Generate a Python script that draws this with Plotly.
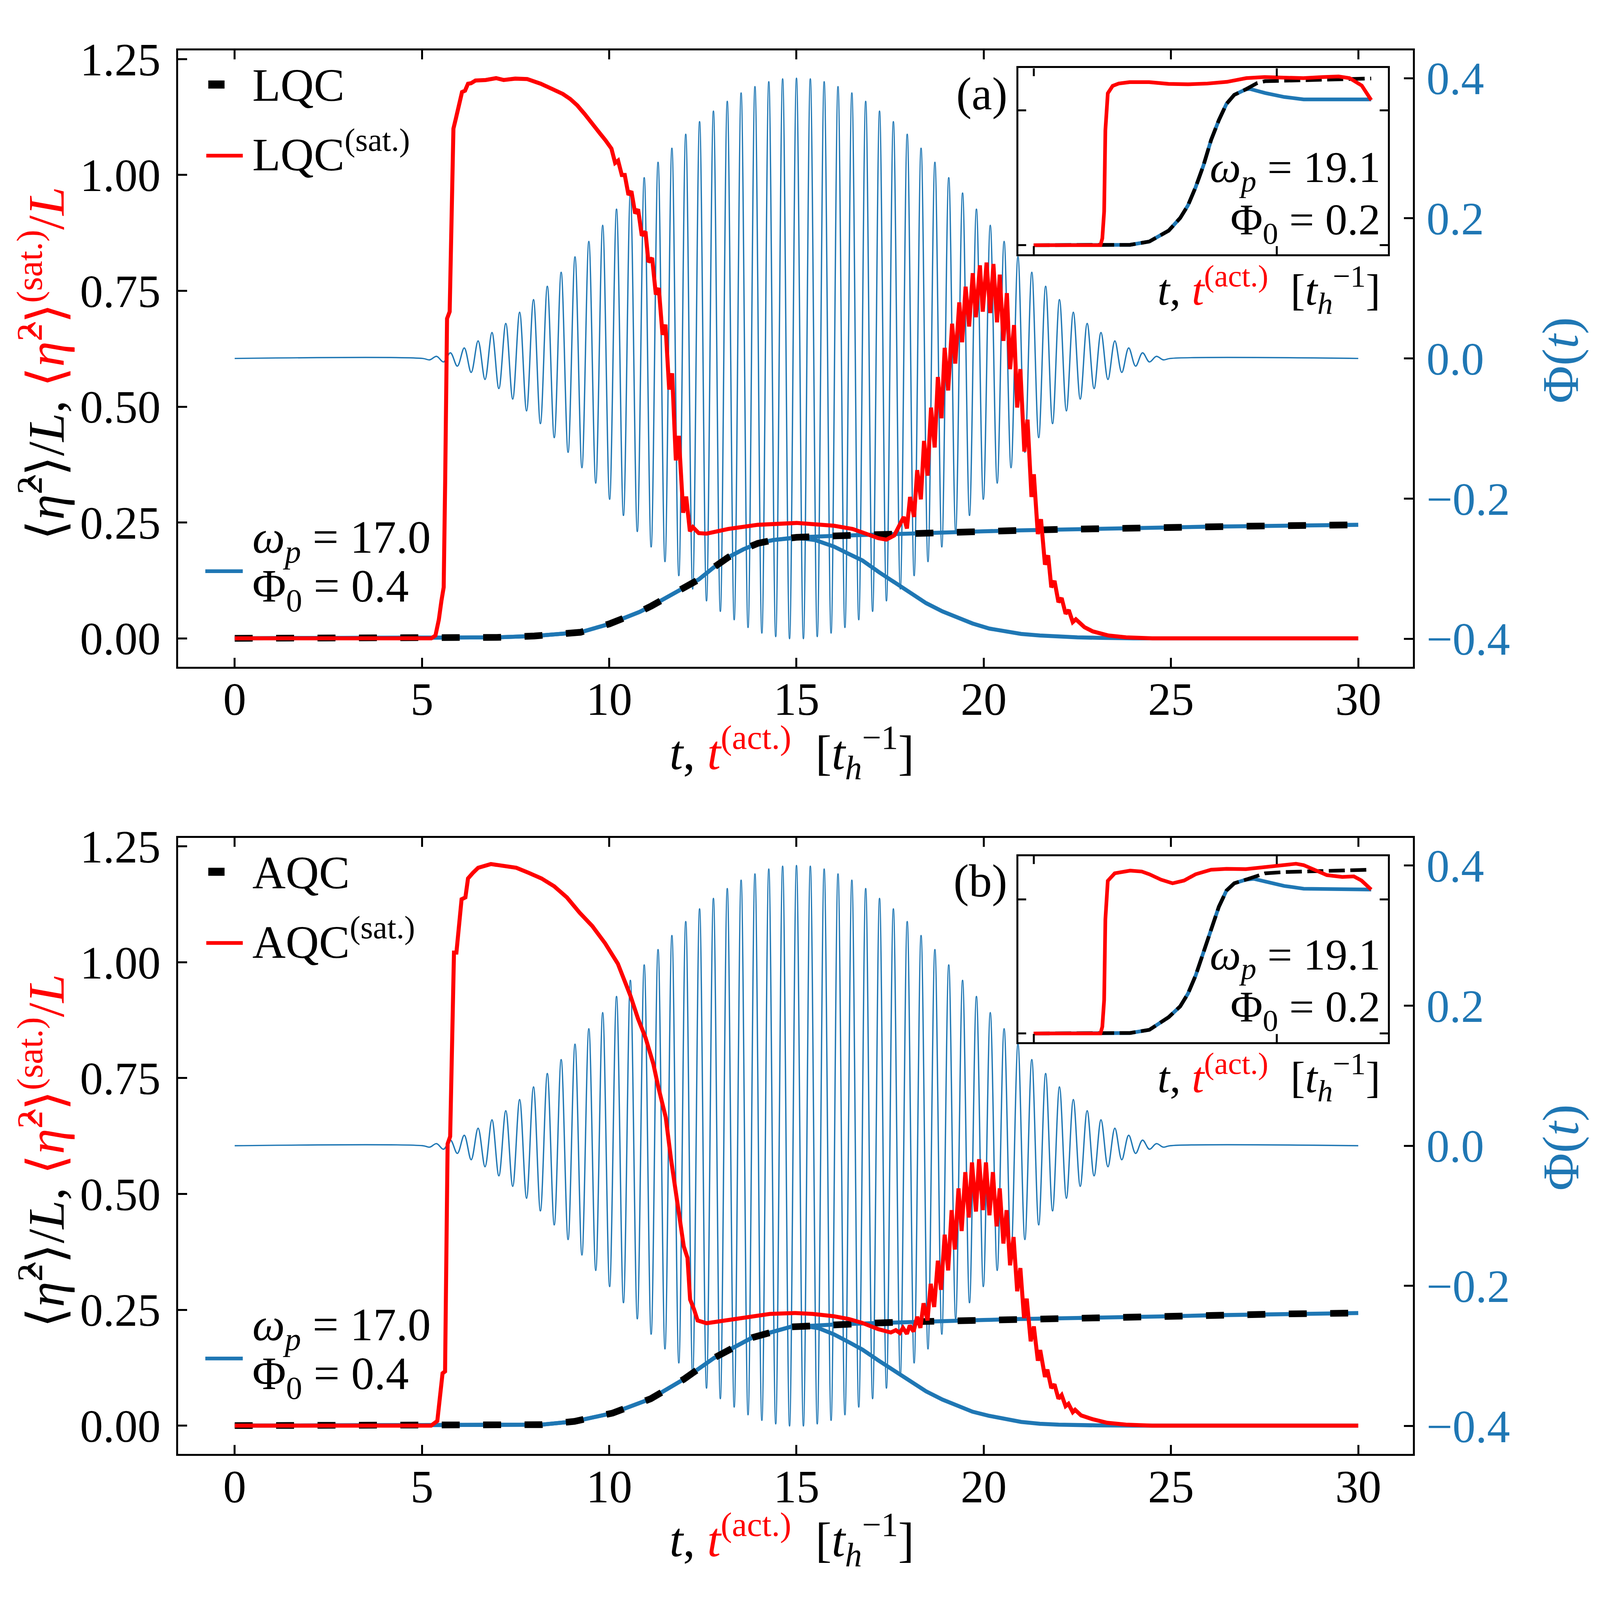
import plotly.graph_objects as go

# ======================================================
# Data
# ======================================================

# drive pulse Phi(t): tip times are PHI_CENTRE + k * PHI_HALF_PERIOD,
# tip heights (|k| = 0, 1, 2, ...) read from the envelope of the trace
PHI_CENTRE = 15.0
PHI_HALF_PERIOD = 0.1848
PHI_TIP_AMP = [
    0.400, 0.400, 0.399, 0.397, 0.395, 0.392, 0.388, 0.384, 0.379, 0.373,
    0.367, 0.361, 0.353, 0.346, 0.338, 0.329, 0.320, 0.310, 0.300, 0.290,
    0.280, 0.269, 0.258, 0.247, 0.236, 0.224, 0.213, 0.201, 0.190, 0.178,
    0.167, 0.156, 0.145, 0.134, 0.123, 0.113, 0.103, 0.093, 0.084, 0.075,
    0.066, 0.058, 0.050, 0.043, 0.037, 0.030, 0.025, 0.020, 0.015, 0.011,
    0.008, 0.005, 0.003, 0.002, 0.000,
]
PHI_T_START = 0.0
PHI_T_END = 30.0

# panel (a): LQC
LQC = [
    (0, 0), (5, 0), (6, 0.0005), (7, 0.002), (8, 0.005), (9, 0.011),
    (9.23, 0.013), (10, 0.031), (10.42, 0.044), (10.81, 0.057), (11.13, 0.07),
    (11.6, 0.092), (12.0, 0.109), (12.39, 0.127), (12.79, 0.153),
    (13.18, 0.175), (13.58, 0.192), (13.97, 0.205), (14.37, 0.212),
    (15.0, 0.218), (16, 0.221), (17, 0.224), (18, 0.227), (19, 0.229),
    (20, 0.231), (21, 0.233), (22, 0.235), (23, 0.237), (24, 0.239),
    (25, 0.240), (26, 0.241), (27, 0.242), (28, 0.243), (29, 0.244),
    (30, 0.245),
]

HUMP_A = [
    (0, 0), (5, 0), (6, 0.0005), (7, 0.002), (8, 0.005), (9, 0.011),
    (9.23, 0.013), (10, 0.031), (10.42, 0.044), (10.81, 0.057), (11.13, 0.07),
    (11.6, 0.092), (12.0, 0.109), (12.39, 0.127), (12.79, 0.153),
    (13.18, 0.175), (13.58, 0.192), (13.97, 0.205), (14.37, 0.212),
    (15.0, 0.217), (15.5, 0.212), (16.0, 0.198), (16.4, 0.182),
    (16.76, 0.168), (17.2, 0.143), (17.61, 0.122), (18.0, 0.10),
    (18.46, 0.076), (18.9, 0.058), (19.3, 0.044), (19.7, 0.032),
    (20.15, 0.021), (20.6, 0.014), (21.0, 0.0095), (21.5, 0.006),
    (21.85, 0.004), (22.5, 0.002), (23.1, 0.001), (24, 0), (30, 0),
]

LQC_SAT = [
    (0, 0), (5.25, 0), (5.36, 0.006), (5.45, 0.04), (5.52, 0.081),
    (5.58, 0.11), (5.62, 0.34), (5.67, 0.69), (5.74, 0.705), (5.79, 0.95),
    (5.84, 1.10), (5.90, 1.12), (5.99, 1.155), (6.07, 1.179), (6.15, 1.182),
    (6.23, 1.197), (6.31, 1.198), (6.43, 1.204), (6.70, 1.205),
    (6.98, 1.209), (7.18, 1.205), (7.49, 1.208), (7.81, 1.207),
    (7.97, 1.203), (8.17, 1.197), (8.36, 1.19), (8.56, 1.183),
    (8.76, 1.175), (8.96, 1.164), (9.15, 1.15), (9.35, 1.131),
    (9.55, 1.109), (9.75, 1.09), (9.90, 1.075),
    (10.059, 1.057), (10.158, 1.026), (10.237, 1.031), (10.336, 1.000),
    (10.415, 1.000), (10.514, 0.957), (10.593, 0.965), (10.692, 0.917),
    (10.771, 0.926), (10.870, 0.869), (10.968, 0.878), (11.047, 0.812),
    (11.146, 0.821), (11.245, 0.742), (11.324, 0.756), (11.423, 0.655),
    (11.502, 0.677), (11.601, 0.537), (11.680, 0.572), (11.779, 0.384),
    (11.858, 0.437), (11.976, 0.271), (12.055, 0.306), (12.154, 0.231),
    (12.233, 0.240), (12.39, 0.227), (12.60, 0.226), (13.18, 0.236),
    (13.97, 0.245), (15.00, 0.249), (15.50, 0.247), (16.00, 0.243),
    (16.50, 0.236), (16.76, 0.228), (17.19, 0.216), (17.40, 0.213),
    (17.61, 0.222),
    (17.864, 0.262), (17.949, 0.237), (18.033, 0.305), (18.139, 0.262),
    (18.224, 0.363), (18.321, 0.300), (18.406, 0.426), (18.499, 0.351),
    (18.593, 0.498), (18.690, 0.412), (18.775, 0.564), (18.872, 0.475),
    (18.957, 0.627), (19.050, 0.535), (19.156, 0.679), (19.240, 0.593),
    (19.347, 0.725), (19.423, 0.639), (19.516, 0.759), (19.610, 0.673),
    (19.707, 0.788), (19.790, 0.693), (19.898, 0.805), (19.974, 0.705),
    (20.076, 0.811), (20.173, 0.702), (20.258, 0.808), (20.355, 0.682),
    (20.427, 0.785), (20.525, 0.642), (20.618, 0.745), (20.703, 0.581),
    (20.809, 0.676), (20.893, 0.498), (20.978, 0.581), (21.084, 0.403),
    (21.169, 0.472), (21.275, 0.305), (21.338, 0.354), (21.444, 0.225),
    (21.529, 0.257), (21.635, 0.159), (21.720, 0.179), (21.804, 0.110),
    (21.890, 0.124), (21.995, 0.078), (22.080, 0.087), (22.186, 0.053),
    (22.270, 0.061), (22.377, 0.035), (22.460, 0.041),
    (22.69, 0.024), (22.91, 0.015), (23.33, 0.006), (23.80, 0.002),
    (24.50, 0.0), (30.0, 0.0),
]

# panel (b): AQC
AQC = [
    (0, 0), (5, 0), (7, 0.001), (8.19, 0.002), (9.07, 0.009),
    (10.09, 0.027), (11.11, 0.058), (11.99, 0.100), (12.8, 0.146),
    (13.82, 0.190), (14.84, 0.213), (15.43, 0.216), (16, 0.218),
    (17, 0.221), (18, 0.224), (19, 0.226), (20, 0.228), (21, 0.230),
    (22, 0.231), (23, 0.232), (24, 0.234), (25, 0.236), (26, 0.238),
    (27, 0.239), (28, 0.241), (29, 0.242), (30, 0.243),
]

HUMP_B = [
    (0, 0), (5, 0), (7, 0.001), (8.19, 0.002), (9.07, 0.009),
    (10.09, 0.027), (11.11, 0.058), (11.99, 0.100), (12.8, 0.146),
    (13.82, 0.190), (14.84, 0.213), (15.2, 0.215), (15.6, 0.21),
    (16.0, 0.197), (16.4, 0.18), (16.76, 0.164), (17.2, 0.14),
    (17.61, 0.119), (18.0, 0.097), (18.46, 0.074), (18.9, 0.056),
    (19.3, 0.042), (19.7, 0.03), (20.15, 0.021), (20.6, 0.013),
    (21.0, 0.008), (21.5, 0.004), (22, 0.002), (23, 0.0005), (24, 0),
    (30, 0),
]

AQC_SAT = [
    (0, 0), (5.245, 0), (5.41, 0.01), (5.48, 0.068), (5.55, 0.113),
    (5.617, 0.117), (5.65, 0.354), (5.685, 0.608), (5.753, 0.624),
    (5.82, 0.845), (5.855, 1.021), (5.92, 1.021), (5.99, 1.091),
    (6.058, 1.136), (6.16, 1.14), (6.23, 1.181), (6.36, 1.193),
    (6.5, 1.204), (6.84, 1.212), (7.18, 1.209), (7.52, 1.204),
    (7.85, 1.193), (8.19, 1.181), (8.53, 1.164), (8.87, 1.14),
    (9.21, 1.107), (9.55, 1.078), (9.89, 1.041), (10.23, 0.997),
    (10.57, 0.927), (10.77, 0.878), (10.97, 0.837), (11.18, 0.78),
    (11.31, 0.731), (11.51, 0.665), (11.65, 0.575), (11.85, 0.469),
    (11.99, 0.387), (12.09, 0.362), (12.16, 0.272), (12.26, 0.252),
    (12.36, 0.227), (12.6, 0.221), (12.94, 0.225), (13.62, 0.235),
    (14.29, 0.241), (14.97, 0.243), (15.43, 0.241), (16.0, 0.236),
    (16.4, 0.23), (16.76, 0.2215), (17.19, 0.208), (17.52, 0.201),
    (17.652, 0.206), (17.758, 0.200), (17.843, 0.211), (17.949, 0.198),
    (18.025, 0.216), (18.126, 0.203), (18.224, 0.235), (18.309, 0.211),
    (18.393, 0.264), (18.499, 0.227), (18.584, 0.306), (18.677, 0.256),
    (18.775, 0.356), (18.86, 0.293), (18.957, 0.412), (19.05, 0.335),
    (19.143, 0.465), (19.228, 0.380), (19.326, 0.512), (19.41, 0.420),
    (19.508, 0.547), (19.601, 0.449), (19.686, 0.568), (19.792, 0.462),
    (19.876, 0.575), (19.974, 0.465), (20.059, 0.568), (20.152, 0.454),
    (20.245, 0.547), (20.343, 0.430), (20.427, 0.512), (20.525, 0.393),
    (20.61, 0.465), (20.703, 0.346), (20.796, 0.407), (20.893, 0.290),
    (20.978, 0.340), (21.076, 0.232), (21.148, 0.274), (21.254, 0.182),
    (21.338, 0.214), (21.445, 0.140), (21.508, 0.163), (21.635, 0.105),
    (21.698, 0.121), (21.804, 0.081), (21.889, 0.089), (21.995, 0.058),
    (22.08, 0.066), (22.186, 0.042), (22.262, 0.047), (22.377, 0.029),
    (22.44, 0.034),
    (22.6, 0.022), (22.9, 0.014), (23.3, 0.006), (23.8, 0.002),
    (24.5, 0.0), (30.0, 0.0),
]

# insets (omega_p = 19.1, Phi_0 = 0.2)
INSET_A_SAT = [
    (0, 0), (5.5, 0), (5.65, 0.01), (5.8, 0.05), (5.9, 0.17), (6.1, 0.225),
    (6.5, 0.236), (7.0, 0.2395), (7.9, 0.2416), (9.5, 0.2416),
    (11.1, 0.239), (12.7, 0.2384), (14.3, 0.2395), (15.9, 0.242),
    (17.5, 0.2475), (19.0, 0.2491), (20.6, 0.2483), (22.2, 0.2475),
    (23.8, 0.2491), (25.1, 0.250), (26.0, 0.2475), (27.0, 0.2365),
    (27.78, 0.215),
]
INSET_A_QC = [
    (0, 0), (5.7, 0), (7.94, 0.0005), (9.52, 0.0054), (11.11, 0.0215),
    (12.06, 0.0403), (12.7, 0.059), (13.33, 0.0859), (13.97, 0.118),
    (14.6, 0.1557), (15.24, 0.1852), (15.87, 0.2094), (16.51, 0.2228),
    (17.46, 0.2309), (18.41, 0.2403), (19.05, 0.243), (20.63, 0.2438),
    (23.81, 0.2448), (27.78, 0.247),
]
INSET_A_EX = [
    (0, 0), (5.7, 0), (7.94, 0.0005), (9.52, 0.0054), (11.11, 0.0215),
    (12.06, 0.0403), (12.7, 0.059), (13.33, 0.0859), (13.97, 0.118),
    (14.6, 0.1557), (15.24, 0.1852), (15.87, 0.2094), (16.51, 0.2228),
    (17.46, 0.2309), (17.8, 0.2315), (19.05, 0.2255), (20.63, 0.2196),
    (22.22, 0.216), (27.78, 0.216),
]
INSET_B_SAT = [
    (0, 0), (5.5, 0), (5.65, 0.01), (5.8, 0.05), (5.9, 0.17), (6.1, 0.228),
    (6.67, 0.2392), (6.98, 0.2405), (7.94, 0.2432), (8.89, 0.2419),
    (9.52, 0.2378), (10.48, 0.2297), (11.43, 0.2243), (12.38, 0.2284),
    (13.33, 0.2378), (14.6, 0.2446), (15.87, 0.2459), (17.46, 0.2454),
    (19.05, 0.2486), (20.63, 0.2527), (21.59, 0.2535), (22.22, 0.2514),
    (23.17, 0.2446), (24.13, 0.2365), (25.4, 0.2338), (26.35, 0.2346),
    (26.98, 0.2284), (27.78, 0.2149),
]
INSET_B_QC = [
    (0, 0), (5.7, 0), (7.94, 0.0007), (9.52, 0.0054), (11.11, 0.0243),
    (12.06, 0.0405), (12.7, 0.0595), (13.33, 0.0865), (13.97, 0.1216),
    (14.6, 0.1568), (15.24, 0.1892), (15.87, 0.2135), (16.51, 0.2243),
    (17.46, 0.2297), (18.41, 0.2351), (19.05, 0.2392), (20.63, 0.2411),
    (23.81, 0.2432), (27.78, 0.2446),
]
INSET_B_EX = [
    (0, 0), (5.7, 0), (7.94, 0.0007), (9.52, 0.0054), (11.11, 0.0243),
    (12.06, 0.0405), (12.7, 0.0595), (13.33, 0.0865), (13.97, 0.1216),
    (14.6, 0.1568), (15.24, 0.1892), (15.87, 0.2135), (16.51, 0.2243),
    (17.46, 0.2297), (18.1, 0.231), (19.05, 0.227), (20.63, 0.2203),
    (22.22, 0.2162), (27.78, 0.2149),
]

X_TICKS = [0, 5, 10, 15, 20, 25, 30]
ETA_TICKS = [0.0, 0.25, 0.5, 0.75, 1.0, 1.25]
PHI_TICKS = [-0.4, -0.2, 0.0, 0.2, 0.4]
PHI_TICK_TEXT = ["\u22120.4", "\u22120.2", "0.0", "0.2", "0.4"]
INSET_X_TICKS = [0, 20]
INSET_Y_TICKS = [0, 0.2]

# ======================================================
# Style
# ======================================================

# the page is shown in a 4096 x 4096 css-px viewport and the shot is then
# stretched to the 4824 x 4742 reference, so positions are written in
# reference pixels and converted here
REF_W, REF_H = 4824, 4742
VIEW = 4096
BODY_MARGIN = 8
FIG_W = FIG_H = VIEW - 2 * BODY_MARGIN
K = 0.857  # reference px -> css px for sizes

FONT = "Liberation Serif"
FS = round(138 * K)
FS_INSET = round(132 * K)
FS_XTITLE = 124
FS_YTITLE = 132
RED = "#ff0000"
BLUE = "#1f77b4"
BLACK = "#000000"

# panel (b) sits this many reference pixels below panel (a)
DY = 2357


def px(X):
    return (X * VIEW / REF_W - BODY_MARGIN) / FIG_W


def py(Y):
    return 1 - (Y * VIEW / REF_H - BODY_MARGIN) / FIG_H


def s(v):
    return v * K


def split(points):
    return [p[0] for p in points], [p[1] for p in points]


def phi_curve():
    ts = [PHI_T_START]
    vs = [0.0]
    n = len(PHI_TIP_AMP) - 1
    for k in range(-n, n + 1):
        ts.append(PHI_CENTRE + k * PHI_HALF_PERIOD)
        sign = 1 if k % 2 == 0 else -1
        vs.append(sign * PHI_TIP_AMP[abs(k)])
    ts.append(PHI_T_END)
    vs.append(0.0)
    return ts, vs


def axis(**kw):
    base = dict(
        showline=True,
        linecolor=BLACK,
        linewidth=s(6),
        ticks="inside",
        ticklen=s(27),
        tickwidth=s(6),
        tickcolor=BLACK,
        showgrid=False,
        zeroline=False,
        tickfont=dict(family=FONT, size=FS, color=BLACK),
    )
    base.update(kw)
    return base


fig = go.Figure()

MAIN_X_DOMAIN = [px(537), px(4260)]
INSET_X_DOMAIN = [px(3070), px(4184)]

panels = [
    dict(x="x", phi="y", eta="y2", ix="x2", iy="y3",
         qc=LQC, hump=HUMP_A, sat=LQC_SAT,
         isat=INSET_A_SAT, iqc=INSET_A_QC, iex=INSET_A_EX),
    dict(x="x3", phi="y4", eta="y5", ix="x4", iy="y6",
         qc=AQC, hump=HUMP_B, sat=AQC_SAT,
         isat=INSET_B_SAT, iqc=INSET_B_QC, iex=INSET_B_EX),
]

phi_t, phi_v = phi_curve()

MAIN_DASH = "%dpx,%dpx" % (round(54 * 0.849), round(71 * 0.849))
INSET_DASH = "%dpx,%dpx" % (round(48 * 0.849), round(16 * 0.849))

for p in panels:

    # drive pulse (right axis)
    fig.add_trace(go.Scatter(
        x=phi_t, y=phi_v, xaxis=p["x"], yaxis=p["phi"],
        mode="lines", line=dict(color=BLUE, width=s(4), shape="spline"),
        showlegend=False,
    ))

    # eta^2 curves (left axis)
    t, v = split(p["qc"])
    fig.add_trace(go.Scatter(
        x=t, y=v, xaxis=p["x"], yaxis=p["eta"], mode="lines",
        line=dict(color=BLUE, width=s(12)), showlegend=False,
    ))
    t, v = split(p["hump"])
    fig.add_trace(go.Scatter(
        x=t, y=v, xaxis=p["x"], yaxis=p["eta"], mode="lines",
        line=dict(color=BLUE, width=s(12)), showlegend=False,
    ))
    t, v = split(p["qc"])
    fig.add_trace(go.Scatter(
        x=t, y=v, xaxis=p["x"], yaxis=p["eta"], mode="lines",
        line=dict(color=BLACK, width=s(20), dash=MAIN_DASH),
        showlegend=False,
    ))
    t, v = split(p["sat"])
    fig.add_trace(go.Scatter(
        x=t, y=v, xaxis=p["x"], yaxis=p["eta"], mode="lines",
        line=dict(color=RED, width=s(12)), showlegend=False,
    ))

    # inset
    t, v = split(p["iex"])
    fig.add_trace(go.Scatter(
        x=t, y=v, xaxis=p["ix"], yaxis=p["iy"], mode="lines",
        line=dict(color=BLUE, width=s(11)), showlegend=False,
    ))
    t, v = split(p["iqc"])
    fig.add_trace(go.Scatter(
        x=t, y=v, xaxis=p["ix"], yaxis=p["iy"], mode="lines",
        line=dict(color=BLACK, width=s(11), dash=INSET_DASH),
        showlegend=False,
    ))
    t, v = split(p["isat"])
    fig.add_trace(go.Scatter(
        x=t, y=v, xaxis=p["ix"], yaxis=p["iy"], mode="lines",
        line=dict(color=RED, width=s(11)), showlegend=False,
    ))

# ======================================================
# Axes
# ======================================================

layout_axes = {}

for i, off in enumerate([0, DY]):
    xa = ["xaxis", "xaxis3"][i]
    ya_phi = ["yaxis", "yaxis4"][i]
    ya_eta = ["yaxis2", "yaxis5"][i]
    xi = ["xaxis2", "xaxis4"][i]
    yi = ["yaxis3", "yaxis6"][i]
    phi_ref = ["y", "y4"][i]
    x_ref = ["x", "x3"][i]
    xi_ref = ["x2", "x4"][i]
    yi_ref = ["y3", "y6"][i]

    layout_axes[xa] = axis(
        domain=MAIN_X_DOMAIN, anchor=phi_ref, range=[-1.511, 31.46],
        tickvals=X_TICKS, mirror="ticks", ticklabelstandoff=-23,
    )
    layout_axes[ya_phi] = axis(
        domain=[py(1948 + off), py(103 + off)], anchor=x_ref, side="right",
        range=[-0.44, 0.4396], tickvals=PHI_TICKS, ticktext=PHI_TICK_TEXT,
        tickfont=dict(family=FONT, size=FS, color=BLUE),
        ticklabelstandoff=6,
    )
    layout_axes[ya_eta] = axis(
        overlaying=phi_ref, anchor=x_ref, side="left",
        range=[-0.0613, 1.2688], tickvals=ETA_TICKS, tickformat=".2f",
        ticklabelstandoff=16,
    )
    layout_axes[xi] = axis(
        domain=INSET_X_DOMAIN, anchor=yi_ref, range=[-1.27, 29.14],
        tickvals=INSET_X_TICKS, showticklabels=False, mirror="ticks",
        ticklen=s(24),
    )
    inset_top = [156, 2515][i]
    inset_bot = [713, 3072][i]
    layout_axes[yi] = axis(
        domain=[py(inset_bot), py(inset_top)], anchor=xi_ref,
        range=[-0.0134, 0.2623] if i == 0 else [-0.013, 0.2649],
        tickvals=INSET_Y_TICKS, showticklabels=False, mirror="ticks",
        ticklen=s(24),
    )

# ======================================================
# Text and legend keys
# ======================================================

T_LABEL = ("<i>t</i>, <span style='color:#ff0000'><i>t</i>"
           "<sup>(act.)</sup></span>  [<i>t</i><sub><i>h</i></sub>"
           "<sup>\u22121</sup>]")
ETA = "\u27e8<i>\u03b7\u0302</i><sup>2</sup>\u27e9"
Y_LABEL = (ETA + "/<i>L</i>, <span style='color:#ff0000'>" + ETA +
           "<sup>(sat.)</sup>/<i>L</i></span>")

annotations = []
shapes = []


def text(txt, X, Y, xanchor="left", size=FS, color=BLACK, angle=0):
    annotations.append(dict(
        text=txt, x=px(X), y=py(Y), xref="paper", yref="paper",
        xanchor=xanchor, yanchor="middle", showarrow=False,
        textangle=angle, font=dict(family=FONT, size=size, color=color),
    ))


def key(X0, X1, Y, color, width):
    shapes.append(dict(
        type="line", xref="paper", yref="paper",
        x0=px(X0), x1=px(X1), y0=py(Y), y1=py(Y),
        line=dict(color=color, width=width),
    ))


for i, name in enumerate(["LQC", "AQC"]):
    off = i * DY
    tag = ["(a)", "(b)"][i]

    key(628, 677, 205 + off, BLACK, s(24))
    text(name, 759, 208 + off)
    key(622, 732, 418 + off, RED, s(11))
    text(name + "<sup>(sat.)</sup>", 759, 405 + off)
    key(619, 732, 1662 + off, BLUE, s(11))
    text("<i>\u03c9</i><sub><i>p</i></sub> = 17.0", 759, 1571 + off)
    text("\u03a6<sub>0</sub> = 0.4", 759, 1717 + off)

    text(tag, 3040, 233 + off, xanchor="right")
    text("<i>\u03c9</i><sub><i>p</i></sub> = 19.1", 4165, 462 + off,
         xanchor="right", size=FS_INSET)
    text("\u03a6<sub>0</sub> = 0.2", 4165, 618 + off,
         xanchor="right", size=FS_INSET)
    text(T_LABEL, 4165, 820 + off, xanchor="right", size=FS_INSET)

    text(T_LABEL, 2387, 2205 + off, xanchor="center", size=FS_XTITLE)
    text(Y_LABEL, 128, 1040 + off, xanchor="center", size=FS_YTITLE,
         angle=-90)
    text("\u03a6(<i>t</i>)", 4705, 1030 + off, xanchor="center",
         size=FS_YTITLE, color=BLUE, angle=-90)

fig.update_layout(
    width=FIG_W,
    height=FIG_H,
    autosize=False,
    margin=dict(l=0, r=0, t=0, b=0),
    paper_bgcolor="white",
    plot_bgcolor="white",
    showlegend=False,
    font=dict(family=FONT, size=FS, color=BLACK),
    annotations=annotations,
    shapes=shapes,
    **layout_axes,
)

fig.write_html("out.html")
